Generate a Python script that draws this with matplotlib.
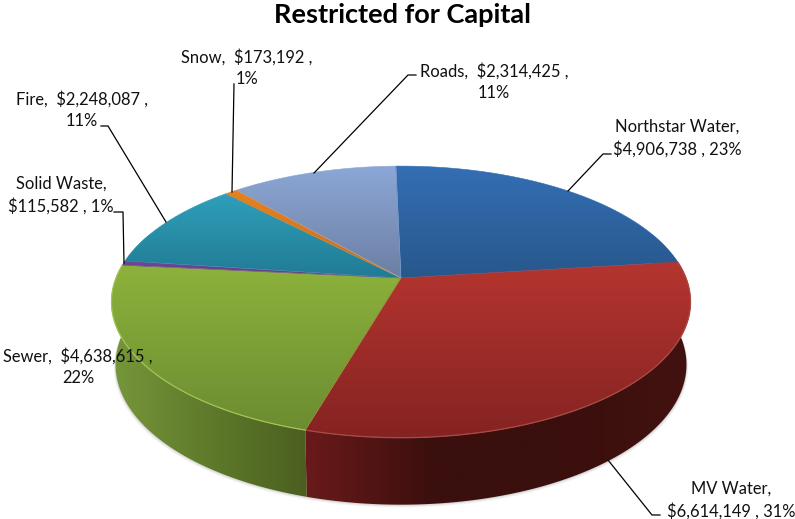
import numpy as np
import matplotlib
matplotlib.use("Agg")
import matplotlib.pyplot as plt
from matplotlib.colors import LinearSegmentedColormap, to_rgb
from matplotlib.patches import Polygon

categories = ["Northstar Water", "MV Water", "Sewer", "Solid Waste", "Fire", "Snow", "Roads"]
values = [4906738, 6614149, 4638615, 115582, 2248087, 173192, 2314425]
percents = [23, 31, 22, 1, 11, 1, 11]
title = "Restricted for Capital"

top_light = ["#346eb4", "#b5352f", "#8db23c", "#70489a", "#2f9fbb", "#e8821f", "#8ca7d6"]
top_dark = ["#27588c", "#842322", "#6c8c31", "#5e3c80", "#217b94", "#c86c18", "#6c7fa3"]
side_cols = [
    ["#24507f", "#24507f"],
    ["#6a1a1a", "#3a0f0d", "#3a0f0d", "#421210"],
    ["#76973a", "#5f7a2b", "#4b5f20"],
    ["#4d3168", "#4d3168"],
    ["#1c6a80", "#1c6a80"],
    ["#a85a14", "#a85a14"],
    ["#5b6c90", "#5b6c90"],
]
rim = [None, "#a94a45", "#a0c456", None, None, None, None]

plt.rcParams["font.family"] = ["Lato", "DejaVu Sans"]
fig = plt.figure(figsize=(7.95, 5.19), dpi=100)
ax = fig.add_axes([0, 0, 1, 1])
ax.set_axis_off()

CX = 401
K = 0.176


def project(theta, r=1.0, a=285.0, b=131.6, y0=278.0):
    u, v = r * np.sin(theta), r * np.cos(theta)
    d = 1 + K * v
    return CX + a * u / d, y0 - b * v / d


def lower(theta):
    return project(theta, a=281.0, b=135.7, y0=340.0)


fractions = np.array(values) / np.sum(values)
edges = np.deg2rad(-1.2) + np.concatenate([[0], np.cumsum(fractions)]) * 2 * np.pi

# soft shadow beneath the disc
th_all = np.linspace(np.pi * 0.3, np.pi * 1.7, 200)
sx, sy = lower(th_all)
for grow, alpha in [(3.0, 0.05), (2.0, 0.08), (1.0, 0.12)]:
    ax.fill(sx + grow * np.sin(th_all) * 0.6, sy + grow, color="#555555", alpha=alpha, lw=0, zorder=1)

# visible side wall, one gradient-filled band for each slice
for i in range(len(values)):
    ths = np.linspace(edges[i], edges[i + 1], 200)
    ths = ths[np.cos(ths) < 0.35]
    if len(ths) < 2:
        continue
    x0, y0 = project(ths)
    x1, y1 = lower(ths[::-1])
    px, py = np.r_[x0, x1], np.r_[y0, y1]
    cmap = LinearSegmentedColormap.from_list("s", side_cols[i])
    im = ax.imshow(np.linspace(0, 1, 256).reshape(1, -1), cmap=cmap, aspect="auto",
                   extent=(px.min(), px.max(), py.max(), py.min()), zorder=2, interpolation="bilinear")
    poly = Polygon(np.c_[px, py], closed=True, transform=ax.transData, fc="none", ec="none")
    ax.add_patch(poly)
    im.set_clip_path(poly)

# top surface with vertical gradients
for i in range(len(values)):
    ths = np.linspace(edges[i], edges[i + 1], 120)
    x, y = project(ths)
    ax_x, ax_y = project(np.array([0.0]), r=0.0)
    px = np.r_[ax_x, x]
    py = np.r_[ax_y, y]
    cmap = LinearSegmentedColormap.from_list("g", [top_light[i], top_dark[i]])
    im = ax.imshow(np.linspace(0, 1, 256).reshape(-1, 1), cmap=cmap, aspect="auto",
                   extent=(px.min(), px.max(), py.max(), py.min()), zorder=3, interpolation="bilinear")
    poly = Polygon(np.c_[px, py], closed=True, transform=ax.transData, fc="none", ec="none")
    ax.add_patch(poly)
    im.set_clip_path(poly)
    ax.fill(px, py, fc="none", ec=top_light[i], lw=0.4, zorder=4)
    if rim[i]:
        front = ths[np.cos(ths) < 0.3]
        rx, ry = project(front)
        ax.plot(rx, ry, color=rim[i], lw=0.9, zorder=5)

ax.set_xlim(0, 795)
ax.set_ylim(519, 0)

# leader lines
leaders = [
    ([611, 603, 568], [154, 154, 191]),
    ([660, 652, 608], [515, 515, 460]),
    ([101, 108, 166], [126, 126, 222]),
    ([114, 123, 124], [212, 212, 263]),
    ([234, 232], [84, 192]),
    ([416, 408, 314], [75, 75, 173]),
]
for lx, ly in leaders:
    ax.plot(lx, ly, color="black", lw=0.9, zorder=6)

# data labels
money = [f"${v:,}" for v in values]
label_text = [
    f"{categories[0]},\n{money[0]} , {percents[0]}%",
    f"{categories[1]},\n{money[1]} , {percents[1]}%",
    f"{categories[2]},  {money[2]} ,\n{percents[2]}%",
    f"{categories[3]},\n{money[3]} , {percents[3]}%",
    f"{categories[4]},  {money[4]} ,\n{percents[4]}%",
    f"{categories[5]},  {money[5]} ,\n{percents[5]}%",
    f"{categories[6]},  {money[6]} ,\n{percents[6]}%",
]
label_pos = [(677, 138), (731, 500), (78, 367), (61, 195), (82, 110), (247, 68), (494, 82)]
for s, (lx, ly) in zip(label_text, label_pos):
    ax.text(lx, ly, s, ha="center", va="center", fontsize=11.9, linespacing=1.42,
            color="#111111", zorder=7)

ax.text(402, 15, title, ha="center", va="center", fontsize=19.5, fontweight="bold", color="black", zorder=7)

fig.savefig("out.png", dpi=100)
